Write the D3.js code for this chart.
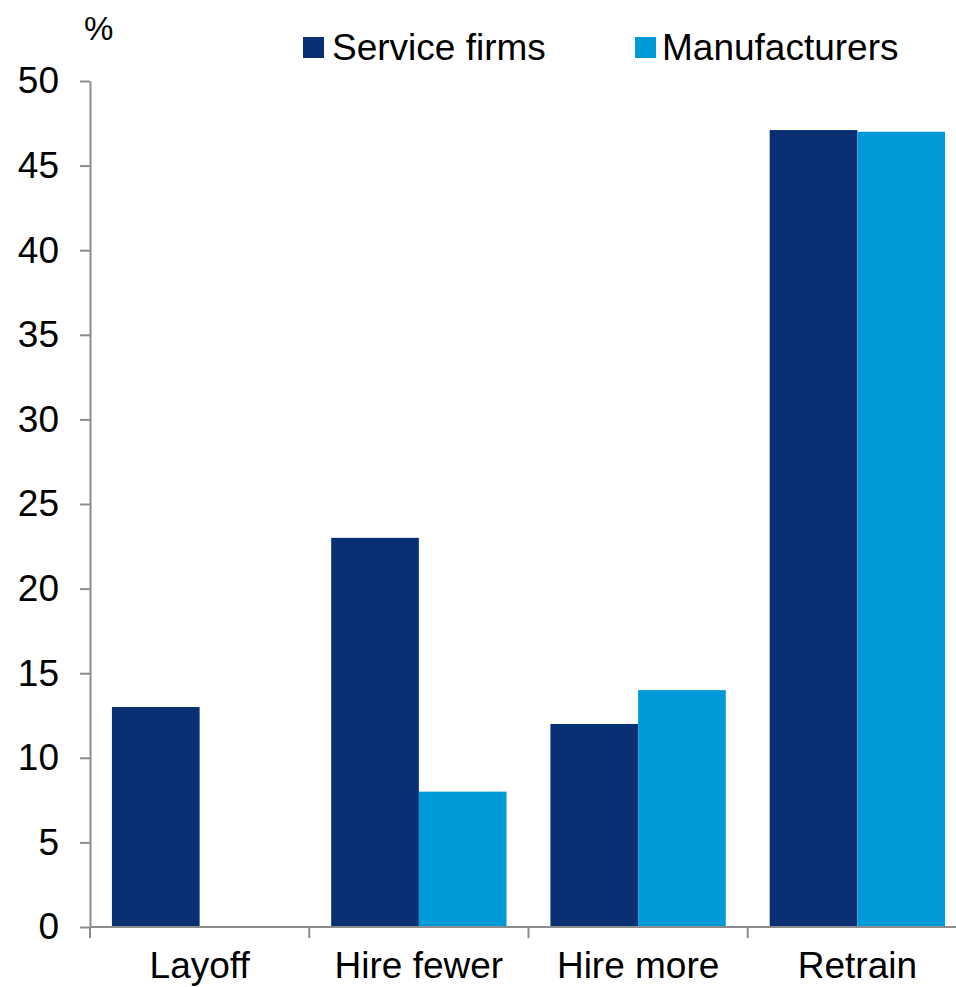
<!DOCTYPE html>
<html>
<head>
<meta charset="utf-8">
<script src="https://cdn.jsdelivr.net/npm/d3@7"></script>
<style>
  html, body { margin: 0; padding: 0; background: #fff; }
  svg { display: block; font-family: "Liberation Sans", Arial, sans-serif; }
</style>
</head>
<body>
<svg id="chart" width="956" height="987"></svg>
<script>
// Categories and series (percent of firms)
const categories = ["Layoff", "Hire fewer", "Hire more", "Retrain"];
const seriesNames = ["Service firms", "Manufacturers"];
const serviceFirms = [13, 23, 12, 47.1];
const manufacturers = [0, 8, 14, 47];
const yTicks = [0, 5, 10, 15, 20, 25, 30, 35, 40, 45, 50];
const seriesColors = ["#0a3074", "#009ad9"];

(function () {
  const svg = d3.select("#chart");
  const axisColor = "#8c8c8c";
  const fontSize = 37;

  const plotLeft = 90, plotRight = 967, plotTop = 81, plotBottom = 927;

  const x = d3.scaleBand().domain(categories).range([plotLeft, plotRight]).paddingInner(0).paddingOuter(0);
  const xs = d3.scaleBand().domain(seriesNames).range([0, x.bandwidth()]).paddingInner(0).paddingOuter(0.25);
  const y = d3.scaleLinear().domain([0, 50]).range([plotBottom, plotTop]);

  const values = [serviceFirms, manufacturers];

  // Bars
  seriesNames.forEach((name, si) => {
    svg.append("g")
      .selectAll("rect")
      .data(categories.map((c, i) => ({ c, v: values[si][i] })))
      .join("rect")
      .attr("x", d => x(d.c) + xs(name))
      .attr("width", xs.bandwidth())
      .attr("y", d => y(d.v))
      .attr("height", d => plotBottom - y(d.v))
      .attr("fill", seriesColors[si]);
  });

  // Y axis
  const yAxis = svg.append("g")
    .attr("transform", `translate(${plotLeft},0)`)
    .call(d3.axisLeft(y).tickValues(yTicks).tickSize(10).tickSizeOuter(0).tickPadding(21).tickFormat(d3.format("d")));
  yAxis.select(".domain").attr("stroke", axisColor).attr("stroke-width", 2);
  yAxis.selectAll(".tick line").attr("stroke", axisColor).attr("stroke-width", 2);
  yAxis.selectAll(".tick text")
    .attr("fill", "#000")
    .style("font-size", fontSize + "px")
    .style("font-family", "'Liberation Sans', Arial, sans-serif");

  // X axis baseline with tick marks at category boundaries
  const xAxis = svg.append("g");
  xAxis.append("line")
    .attr("x1", plotLeft).attr("x2", plotRight)
    .attr("y1", plotBottom).attr("y2", plotBottom)
    .attr("stroke", axisColor).attr("stroke-width", 2);
  const boundaries = categories.map(c => x(c)).concat([x(categories[categories.length - 1]) + x.bandwidth()]);
  xAxis.selectAll("line.tick")
    .data(boundaries)
    .join("line")
    .attr("class", "tick")
    .attr("x1", d => d).attr("x2", d => d)
    .attr("y1", plotBottom).attr("y2", plotBottom + 11)
    .attr("stroke", axisColor).attr("stroke-width", 2);
  xAxis.selectAll("text")
    .data(categories)
    .join("text")
    .attr("x", d => x(d) + x.bandwidth() / 2)
    .attr("y", 978)
    .attr("text-anchor", "middle")
    .attr("fill", "#000")
    .style("font-size", fontSize + "px")
    .text(d => d);

  // Unit label
  svg.append("text")
    .attr("x", 84).attr("y", 40)
    .attr("fill", "#000")
    .style("font-size", "33px")
    .text("%");

  // Legend
  const legendItems = [
    { name: seriesNames[0], color: seriesColors[0], sx: 303, tx: 332 },
    { name: seriesNames[1], color: seriesColors[1], sx: 635, tx: 662 }
  ];
  const legend = svg.append("g");
  legend.selectAll("rect")
    .data(legendItems)
    .join("rect")
    .attr("x", d => d.sx).attr("y", 37)
    .attr("width", 21).attr("height", 21)
    .attr("fill", d => d.color);
  legend.selectAll("text")
    .data(legendItems)
    .join("text")
    .attr("x", d => d.tx).attr("y", 60)
    .attr("fill", "#000")
    .style("font-size", fontSize + "px")
    .text(d => d.name);
})();
</script>
</body>
</html>
